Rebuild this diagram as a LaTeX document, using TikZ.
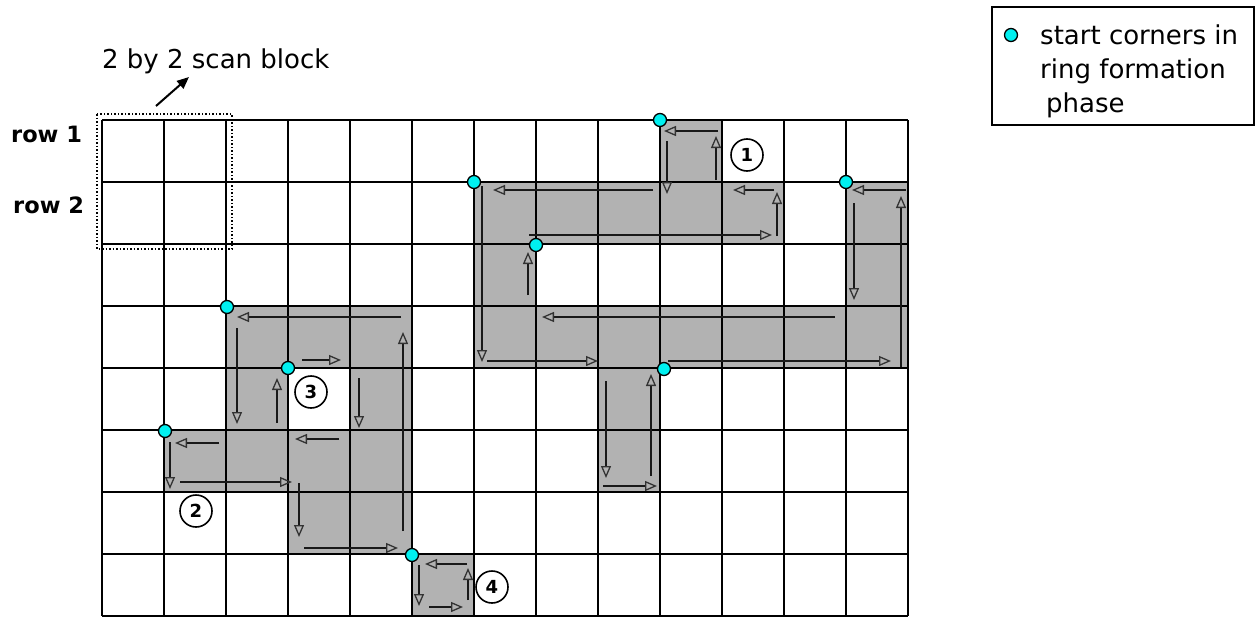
\documentclass[tikz,border=0pt]{standalone}
\usepackage{fontspec}
\setmainfont{DejaVu Sans}
\usetikzlibrary{arrows.meta}
\definecolor{startcyan}{RGB}{0,240,240}
\begin{document}
\begin{tikzpicture}[x=1pt,y=-1pt,
  cellfill/.style={fill=black!30},
  vline/.style={line width=1.8pt,black},
  hline/.style={line width=2.3pt,black},
  flow/.style={line width=1.7pt,black!90,
    -{Triangle[open,length=12pt,width=10pt,line width=1.3pt,color=black!80]}},
  pointer/.style={line width=2pt,-{Triangle[length=12pt,width=10pt]}},
  dot/.style={circle,fill=startcyan,draw=black,line width=1.3pt,inner sep=0pt,minimum size=13pt},
  numcirc/.style={circle,draw=black,line width=1.6pt,minimum size=32pt,inner sep=0pt,
    font=\bfseries\fontsize{18}{18}\selectfont},
  bigtext/.style={anchor=base west,inner sep=0pt,font=\fontsize{26}{26}\selectfont},
  rowtext/.style={anchor=base west,inner sep=0pt,font=\bfseries\fontsize{22.5}{22.5}\selectfont}
]
\useasboundingbox (0,0) rectangle (1258,618);
\fill[white] (0,0) rectangle (1258,618);

% shaded cells
\foreach \c/\r in {9/0,6/1,7/1,8/1,9/1,10/1,12/1,6/2,12/2,6/3,7/3,8/3,9/3,10/3,11/3,12/3,8/4,8/5,
                   2/3,3/3,4/3,2/4,4/4,1/5,2/5,3/5,4/5,3/6,4/6,5/7}
  \fill[cellfill] ({102+62*\c},{120+62*\r}) rectangle ++(62,62);

% grid
\foreach \i in {0,...,13} \draw[vline] ({102+62*\i},120) -- ({102+62*\i},616);
\foreach \j in {0,...,8} \draw[hline] (102,{120+62*\j}) -- (908,{120+62*\j});

% scan block
\draw[dotted,line width=1.5pt] (97,114) rectangle (232,249);
\node[bigtext] (scanlabel) at (102,68) {2 by 2 scan block};
\coordinate (scanfrom) at (156,106);
\coordinate (scanto) at (189,77);
\draw[pointer] (scanfrom) -- (scanto);

% row labels
\node[rowtext] (row1) at (11,142) {row 1};
\node[rowtext] (row2) at (13,213) {row 2};

% flow arrows, right region
\draw[flow] (718,131) -- (664,131);
\draw[flow] (667,141) -- (667,194);
\draw[flow] (716,180) -- (716,136);
\draw[flow] (653,190) -- (493,190);
\draw[flow] (482,186) -- (482,362);
\draw[flow] (487,361) -- (598,361);
\draw[flow] (528,295) -- (528,252);
\draw[flow] (529,235) -- (772,235);
\draw[flow] (777,236) -- (777,192);
\draw[flow] (774,190) -- (733,190);
\draw[flow] (906,190) -- (852,190);
\draw[flow] (854,203) -- (854,300);
\draw[flow] (835,317) -- (542,317);
\draw[flow] (901,367) -- (901,196);
\draw[flow] (668,361) -- (891,361);
\draw[flow] (606,381) -- (606,478);
\draw[flow] (603,486) -- (657,486);
\draw[flow] (651,476) -- (651,374);

% flow arrows, left region
\draw[flow] (401,317) -- (237,317);
\draw[flow] (237,328) -- (237,424);
\draw[flow] (302,360) -- (341,360);
\draw[flow] (403,531) -- (403,332);
\draw[flow] (277,423) -- (277,378);
\draw[flow] (359,378) -- (359,428);
\draw[flow] (339,439) -- (295,439);
\draw[flow] (219,443) -- (175,443);
\draw[flow] (170,442) -- (170,489);
\draw[flow] (180,482) -- (292,482);
\draw[flow] (299,483) -- (299,537);
\draw[flow] (304,548) -- (398,548);

% flow arrows, small block
\draw[flow] (467,564) -- (425,564);
\draw[flow] (419,565) -- (419,606);
\draw[flow] (429,607) -- (463,607);
\draw[flow] (468,600) -- (468,568);

% start corners
\foreach \p [count=\k] in {(660,120),(474,182),(536,245),(846,182),(664,369),(227,307),(288,368),(165,431),(412,555)}
  \node[dot] (s\k) at \p {};

% numbers
\node[numcirc] (n1) at (747,155) {1};
\node[numcirc] (n2) at (196,511) {2};
\node[numcirc] (n3) at (311,392) {3};
\node[numcirc] (n4) at (492,587) {4};

% legend
\draw[line width=1.5pt] (992,7) rectangle (1254,125);
\node[dot] (legdot) at (1011,35) {};
\node[bigtext] (leg1) at (1040,45) {start corners in};
\node[bigtext] (leg2) at (1040,78) {ring formation};
\node[bigtext] (leg3) at (1046,112) {phase};
\end{tikzpicture}
\end{document}
